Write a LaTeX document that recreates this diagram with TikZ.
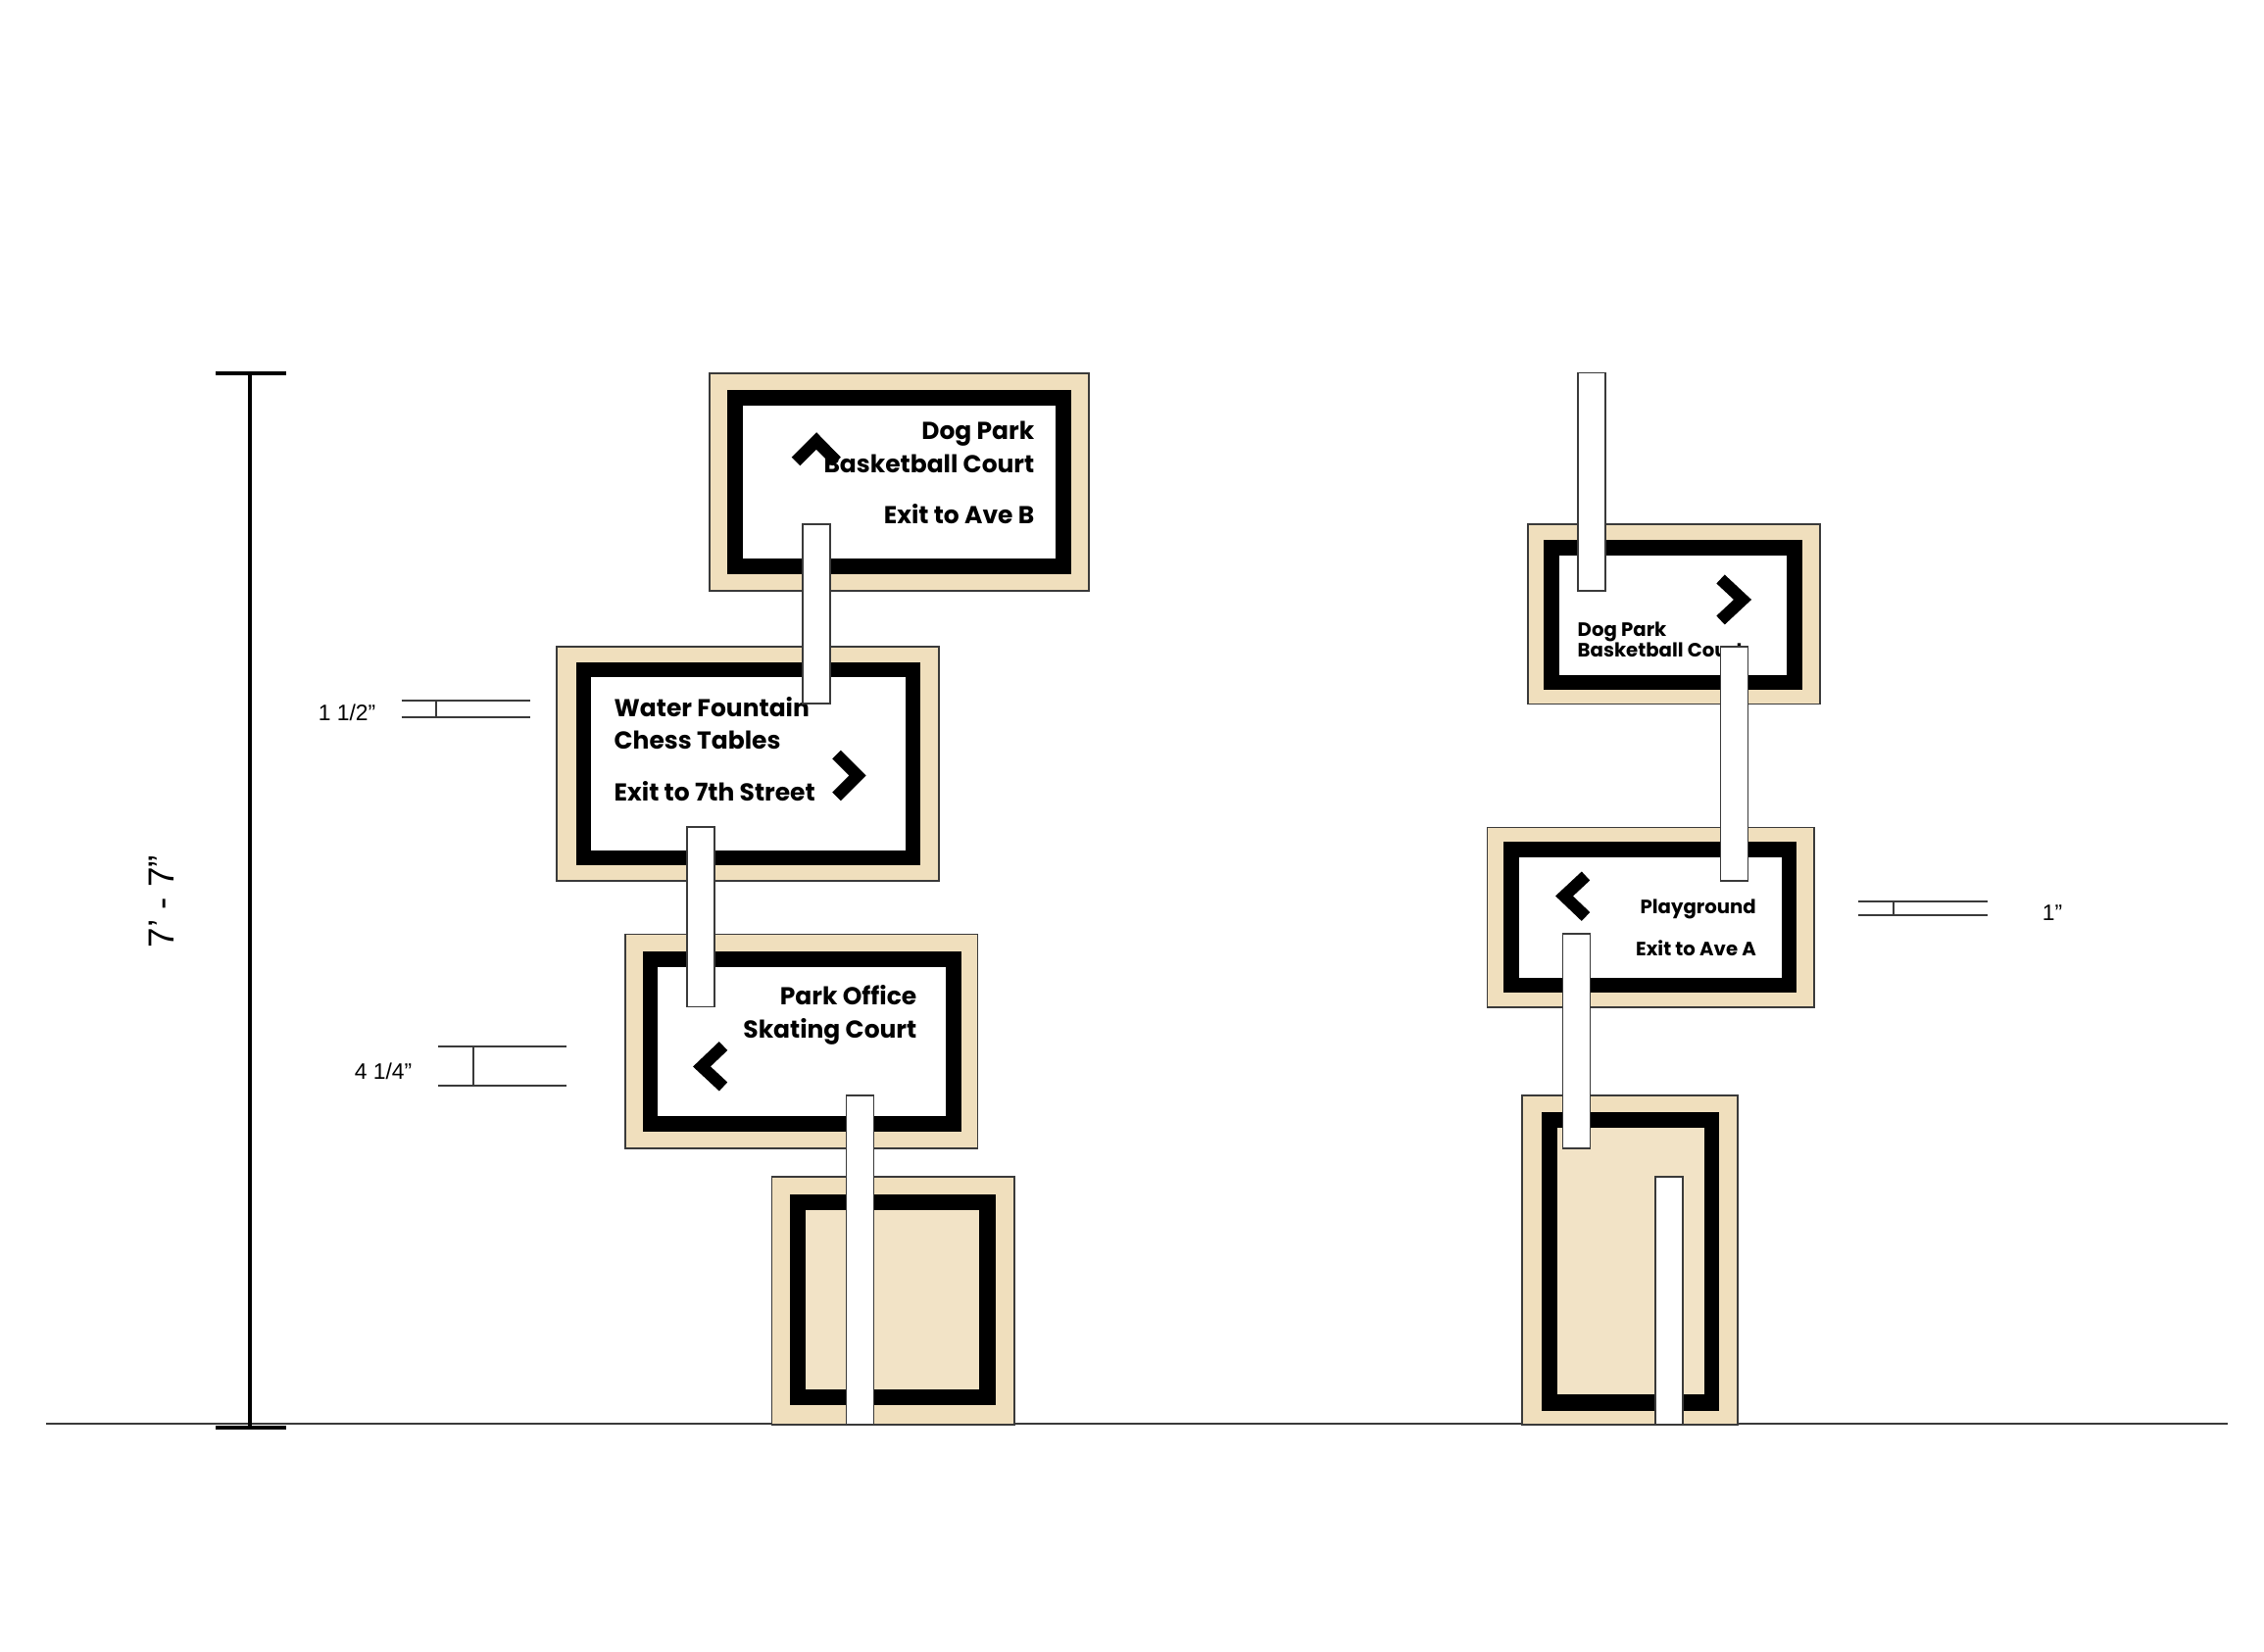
\documentclass[tikz,border=0pt]{standalone}
\usepackage{fontspec}
\setmainfont{Liberation Sans}
\newfontfamily\signfont{Poppins}
\definecolor{woodtone}{HTML}{F0DFBD}
\definecolor{panelwood}{HTML}{F2E3C6}
\definecolor{edgeline}{HTML}{3A3A3A}
\tikzset{
  board/.style 2 args={shape=rectangle, inner sep=0, outer sep=0, minimum width=#1*0.01cm, minimum height=#2*0.01cm},
  woodboard/.style 2 args={board={#1}{#2}, draw=edgeline, line width=0.35pt, fill=woodtone},
  frameboard/.style 2 args={board={#1}{#2}, fill=black},
  faceboard/.style 2 args={board={#1}{#2}, fill=white},
  innerwood/.style 2 args={board={#1}{#2}, fill=panelwood},
  post/.style={board={28}{#1}, draw=edgeline, line width=0.4pt, fill=white},
  chevron/.style={draw=black, line width=3.5pt, miter limit=10},
  bigsign/.style={inner sep=0, font=\signfont\bfseries\fontsize{7.1}{7.7}\selectfont},
  smallsign/.style={inner sep=0, font=\signfont\bfseries\fontsize{5.6}{6}\selectfont},
  dimtext/.style={inner sep=0, font=\fontsize{6.5}{8}\selectfont},
  dimline/.style={draw=edgeline, line width=0.35pt}
}
\begin{document}
\begin{tikzpicture}[x=0.01cm, y=-0.01cm]
  \useasboundingbox (0,0) rectangle (2310,1686);

  \draw [dimline] (47,1453) coordinate (groundleft) -- (2273,1453) coordinate (groundright);

  \path (917.5,492) node [woodboard={387}{222}] (topwood) {}
        (917.5,492) node [frameboard={351}{188}] (topframe) {}
        (917.5,492) node [faceboard={319}{156}] (topface) {}
        (763,779.5) node [woodboard={390}{239}] (waterwood) {}
        (763.5,779.5) node [frameboard={351.5}{207.5}] (waterframe) {}
        (763.5,779.5) node [faceboard={320.5}{176.5}] (waterface) {}
        (817.75,1062.75) node [woodboard={359.5}{218.5}] (officewood) {}
        (818,1062.75) node [frameboard={325}{183.5}] (officeframe) {}
        (818,1062.75) node [faceboard={293.5}{151.5}] (officeface) {}
        (911.25,1327.5) node [woodboard={247.5}{253}] (basewood) {}
        (911,1326.5) node [frameboard={210}{215}] (baseframe) {}
        (910.5,1326.5) node [innerwood={177}{183.5}] (baseface) {}
  ;

  \path (1708,626.75) node [woodboard={298}{183.5}] (dogwood) {}
        (1707,628) node [frameboard={264}{153}] (dogframe) {}
        (1706.75,628) node [faceboard={232.5}{122}] (dogface) {}
        (1684.25,936.25) node [woodboard={333.5}{183.5}] (playwood) {}
        (1683.25,936.25) node [frameboard={299.5}{153.5}] (playframe) {}
        (1684,936.25) node [faceboard={268}{122.5}] (playface) {}
        (1663,1286) node [woodboard={220}{336}] (standwood) {}
        (1663.25,1287) node [frameboard={180.5}{305}] (standframe) {}
        (1663.5,1286.75) node [innerwood={150}{272.5}] (standface) {}
  ;

  \path (1056,456) node [bigsign, anchor=east, align=right] (topnames) {Dog Park\\[1.9pt]Basketball Court}
        (1056,525) node [bigsign, anchor=east] (topexit) {Exit to Ave B}
        (626,738) node [bigsign, anchor=west, align=left] (waternames) {Water Fountain\\[1.9pt]Chess Tables}
        (626,808) node [bigsign, anchor=west] (waterexit) {Exit to 7th Street}
        (936,1036) node [bigsign, anchor=east, align=right] (officenames) {Park Office\\[1.9pt]Skating Court}
        (1609,652.5) node [smallsign, anchor=west, align=left] (dognames) {Dog Park\\Basketball Court}
        (1792.5,928) node [smallsign, anchor=east] (playname) {Playground}
        (1792.5,968) node [smallsign, anchor=east] (playexit) {Exit to Ave A}
  ;

  \draw [chevron] (812,471) -- (833,450) -- (853.5,471);
  \draw [chevron] (853.5,770) -- (875,791.5) -- (853.5,813);
  \draw [chevron] (738,1067.5) -- (716,1088.5) -- (738,1109);
  \draw [chevron] (1755.5,591) -- (1778,612) -- (1755.5,633);
  \draw [chevron] (1618,894) -- (1596,914.5) -- (1618,935.5);

  \path (833,626.5) node [post=183] (posta) {}
        (715,935.75) node [post=183.5] (postb) {}
        (877.5,1286) node [post=336] (postc) {}
        (1624,491.75) node [post=222.5] (postd) {}
        (1769.5,779.5) node [post=239] (poste) {}
        (1608.5,1062.5) node [post=219] (postf) {}
        (1703,1327.5) node [post=253] (postg) {}
  ;

  \draw [line width=1.1pt] (220,381.3) coordinate (captopl) -- (292,381.3) coordinate (captopr);
  \draw [line width=1.1pt] (220,1456.7) coordinate (capbotl) -- (292,1456.7) coordinate (capbotr);
  \draw [line width=1.1pt] (254.7,381.3) coordinate (stemtop) -- (254.7,1456.7) coordinate (stembot);
  \node [inner sep=0, rotate=90, font=\fontsize{10.5}{12}\selectfont] (heightlabel) at (165,920) {7' - 7"};

  \draw [dimline] (409.5,715) -- (540.5,715);
  \draw [dimline] (409.5,732) -- (540.5,732);
  \draw [dimline] (445,715) -- (445,732);
  \node [dimtext] (wallthick) at (354,727) {1 1/2"};

  \draw [dimline] (447,1068) -- (578,1068);
  \draw [dimline] (447,1108) -- (578,1108);
  \draw [dimline] (483,1068) -- (483,1108);
  \node [dimtext] (bandthick) at (391,1093) {4 1/4"};

  \draw [dimline] (1896,920) -- (2028,920);
  \draw [dimline] (1896,934) -- (2028,934);
  \draw [dimline] (1932,920) -- (1932,934);
  \node [dimtext] (rimthick) at (2094,932) {1"};
\end{tikzpicture}
\end{document}
